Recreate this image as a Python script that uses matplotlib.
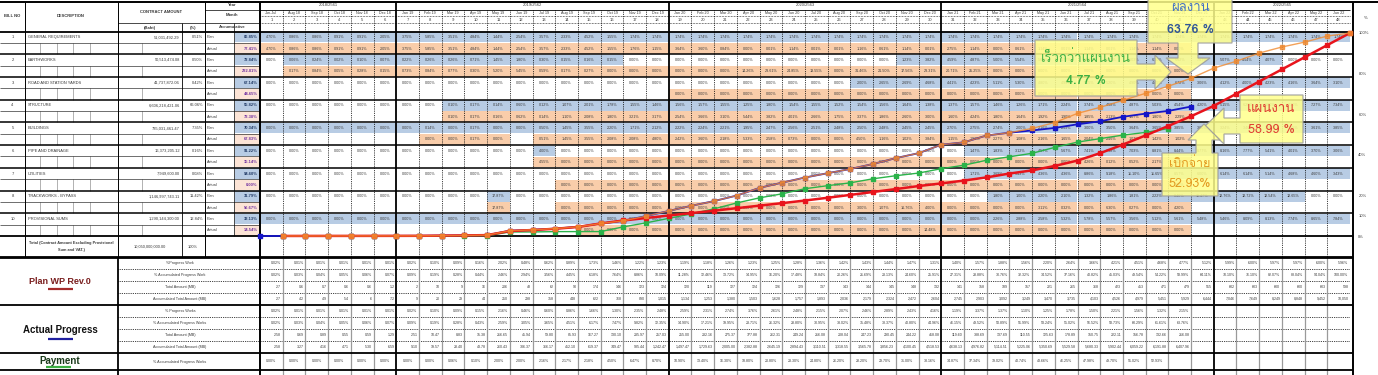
import matplotlib
matplotlib.use("Agg")
import numpy as np
import matplotlib.pyplot as plt
from matplotlib import font_manager, ft2font
from matplotlib.collections import PatchCollection
from matplotlib.patches import Rectangle, Polygon

# ---------------------------------------------------------------- data
bill_no = ["1", "2", "3", "4", "5", "6", "7", "8", "10"]
descriptions = ["GENERAL REQUIREMENTS", "EARTHWORKS", "ROAD AND STATION YARDS",
                "STRUCTURE", "BUILDINGS", "PIPE AND DRAINAGE", "UTILITIES",
                "TRACKWORKS - BYPASS", "PROVISIONAL SUMS"]
contract_baht = ["51,031,492.29", "50,513,474.08", "41,737,872.06",
                 "6,606,218,421.06", "735,031,461.47", "16,373,205.12",
                 "7,949,600.00", "1,146,997,743.11", "1,290,144,300.00"]
contract_pct = ["0.51%", "0.50%", "0.42%", "66.06%", "7.35%", "0.16%",
                "0.08%", "11.42%", "12.84%"]
plan_accum_item = [86.85, 72.84, 67.14, 55.82, 70.34, 91.22, 94.60, 31.79, 33.13]
actual_accum_item = [77.41, 232.81, 44.65, 73.38, 67.83, 15.14, 0.00, 56.67, 14.54]

years = ["2018/2561", "2019/2562", "2020/2563", "2021/2564", "2022/2565"]
year_first_month = [1, 7, 19, 31, 43]
year_last_month = [6, 18, 30, 42, 48]

N = None
gr_plan = [4.70, 0.86, 0.86, 0.91, 0.91, 2.05, 3.75, 5.85, 3.51, 4.84, 1.44, 2.54,
           3.57, 2.33, 4.52, 1.55, 1.74, 1.74, 1.74, 1.74, 1.74, 1.74, 1.74, 1.74,
           1.74, 1.74, 1.74, 1.74, 1.74, 1.74, 1.74, 1.74, 1.74, 1.74, 1.74, 1.74,
           1.74, 1.74, 1.74, 1.74, 1.74, 1.74, 1.74, 1.74, 1.74, 1.74, 1.74, 1.74]
gr_act = [4.70, 0.86, 0.86, 0.91, 0.91, 2.05, 3.75, 5.85, 3.51, 4.84, 1.44, 2.54,
          3.57, 2.33, 4.52, 1.55, 1.76, 1.15, 3.64, 3.60, 0.84, 0.00, 0.01, 1.14,
          0.01, 0.01, 1.16, 0.61, 1.14, 0.01, 2.75, 1.14, 0.00, 0.61, 1.14, 0.01,
          1.14, 0.01, 1.14, 1.14, 0.00, N, N, N, N, N, N, N]
ew_plan = [0.00, 0.06, 0.24, 0.02, 0.10, 0.07, 0.22, 0.26, 0.26, 0.71, 1.45, 1.80,
           0.30, 0.15, 0.16, 0.15, 0.00, 0.00, 0.00, 0.00, 0.00, 0.00, 0.00, 0.00,
           0.00, 0.00, 0.00, 0.00, 1.23, 3.82, 4.59, 4.87, 5.00, 5.54, 5.60, 5.72,
           5.85, 5.91, 6.03, 6.10, 6.62, 7.67, 5.07, 4.54, 4.07, 0.00, 0.00, 0.00]
ew_act = [N, 0.17, 0.84, 0.05, 0.28, 0.15, 0.73, 0.84, 0.77, 0.30, 5.20, 5.45,
          0.59, 0.17, 0.27, 0.00, 0.00, 0.00, 0.00, 0.00, 0.00, 14.26, 23.61, 24.85,
          13.55, 0.00, 31.46, 21.50, 17.56, 23.31, 20.71, 25.25, 0.00, 0.00, 0.00, 0.00,
          0.00, 0.00, 0.00, 0.00, 0.00, N, N, N, N, N, N, N]
road_plan = [0.00, 0.00, 0.00, 0.00, 0.00, 0.00, 0.00, 0.00, 0.00, 0.00, 0.00, 0.00,
             0.00, 0.00, 0.00, 0.00, 0.00, 0.00, 0.00, 0.00, 0.00, 0.00, 0.00, 0.00,
             0.00, 0.00, 2.00, 2.65, 2.69, 4.68, 4.41, 4.23, 5.11, 5.30, 4.80, 4.95,
             5.05, 5.20, 4.90, 4.45, 6.72, 3.06, 4.12, 4.00, 4.23, 4.16, 3.64, 3.10]
road_act = [N, N, N, N, N, N, N, N, N, N, N, N,
            N, N, N, N, N, N, 0.00, 0.00, 0.00, 0.00, 0.00, 0.00,
            0.00, 0.00, 0.00, 0.00, 0.00, 0.00, 0.00, 0.00, 0.00, 0.00, 0.00, 0.00,
            0.00, 0.00, 0.00, 0.00, 0.00, N, N, N, N, N, N, N]
struct_plan = [0.00, 0.00, 0.00, 0.00, 0.00, 0.00, 0.00, 0.00, 0.10, 0.17, 0.14, 0.60,
               0.12, 1.07, 2.01, 1.78, 1.55, 1.46, 1.56, 1.57, 1.55, 1.25, 1.80, 1.54,
               1.55, 1.52, 1.54, 1.56, 1.64, 1.38, 1.37, 1.57, 1.46, 1.26, 1.71, 2.24,
               3.74, 4.58, 4.87, 5.03, 4.54, 4.20, 5.15, 6.20, 6.80, 7.10, 7.27, 7.34]
struct_act = [N, N, N, N, N, N, N, N, 0.10, 0.17, 0.16, 0.62,
              0.14, 1.10, 2.08, 1.80, 3.21, 3.17, 2.54, 3.66, 3.10, 5.44, 3.82, 4.01,
              2.66, 1.75, 3.37, 1.86, 2.60, 3.00, 1.60, 4.24, 1.80, 1.64, 1.92, 1.90,
              1.85, 2.13, 1.07, 1.80, 2.29, N, N, N, N, N, N, N]
bld_plan = [0.00, 0.00, 0.00, 0.00, 0.00, 0.00, 0.00, 0.14, 0.00, 0.17, 0.00, 0.00,
            0.50, 1.45, 3.55, 2.20, 1.71, 2.12, 2.22, 2.24, 2.21, 1.95, 2.47, 2.56,
            2.51, 2.48, 2.50, 2.48, 2.45, 2.45, 2.70, 2.75, 2.74, 2.00, 2.16, 2.59,
            3.00, 3.50, 3.64, 3.65, 3.85, 3.60, 3.24, 3.40, 3.50, 3.55, 3.61, 3.85]
bld_act = [N, N, N, N, N, N, N, 0.00, 0.00, 0.17, 0.00, N,
           0.51, 1.45, 3.55, 2.08, 2.08, 4.80, 2.42, 3.60, 2.18, 5.33, 2.58, 0.73,
           0.00, 0.00, 4.50, 1.16, 1.02, 3.84, 1.15, 1.93, 2.27, 1.08, 2.16, 1.65,
           2.04, 2.46, 1.07, 1.42, 1.02, N, N, N, N, N, N, N]
pipe_plan = [0.00, 0.00, 0.00, 0.00, 0.00, 0.00, 0.00, 0.00, 0.00, 0.00, 0.00, 0.00,
             4.00, 0.00, 0.00, 0.00, 0.00, 0.00, 0.00, 0.00, 0.00, 0.00, 0.00, 0.00,
             0.00, 0.00, 0.00, 0.00, 0.00, 0.00, 0.00, 1.47, 1.83, 3.12, 4.57, 5.67,
             7.41, 7.58, 7.03, 8.81, 8.44, 8.77, 8.16, 7.77, 5.41, 4.01, 3.70, 3.06]
pipe_act = [N, N, N, N, N, N, N, N, N, N, N, N,
            4.55, 0.00, 0.00, 0.00, 0.00, 0.00, 0.00, 0.00, 0.00, 0.00, 0.00, 0.00,
            0.00, 0.00, 0.00, 0.00, 0.00, 0.00, 0.00, 0.00, 0.00, 0.00, 0.00, 0.00,
            4.26, 0.12, 0.52, 2.17, 3.52, N, N, N, N, N, N, N]
util_plan = [0.00, 0.00, 0.00, 0.00, 0.00, 0.00, 0.00, 0.00, 0.00, 0.00, 0.00, 0.00,
             0.00, 0.00, 0.00, 0.00, 0.00, 0.00, 0.00, 0.00, 0.00, 0.00, 0.00, 0.00,
             0.00, 0.00, 0.00, 0.00, 0.00, 0.00, 0.00, 1.71, 3.69, 3.43, 4.36, 4.36,
             8.86, 9.18, 11.10, 11.65, 8.57, 6.00, 6.14, 6.14, 5.14, 4.68, 4.60, 3.43]
util_act = [N, N, N, N, N, N, N, N, N, N, N, N,
            N, 0.00, 0.00, 0.00, 0.00, 0.00, 0.00, 0.00, 0.00, 0.00, 0.00, 0.00,
            0.00, 0.00, 0.00, 0.00, 0.00, 0.00, 0.00, 0.00, 0.00, 0.00, 0.00, 0.00,
            0.00, 0.00, 0.00, 0.00, 0.00, N, N, N, N, N, N, N]
track_plan = [0.00, 0.00, 0.00, 0.00, 0.00, 0.00, 0.00, 0.00, 0.00, 0.00, 17.87, 0.00,
              0.00, 0.00, 0.00, 0.00, 0.00, 0.00, 0.00, 0.00, 0.00, 0.00, 0.00, 0.00,
              0.00, 0.00, 0.00, 0.00, 0.00, 0.00, 0.00, 0.00, 1.80, 1.00, 2.20, 2.10,
              1.32, 1.86, 1.81, 2.22, 0.40, 11.47, 12.76, 12.72, 12.54, 12.65, 0.00, 0.00]
track_act = [N, N, N, N, N, N, N, N, N, N, 17.87, N,
             N, 0.00, 0.00, 0.00, 0.00, 0.00, 0.00, 0.00, 0.00, 0.00, 0.00, 0.00,
             0.00, 0.00, 3.00, 1.07, 16.76, 4.00, 0.00, 0.00, 0.00, 0.00, 3.11, 0.32,
             0.00, 6.30, 0.27, 0.00, 4.20, N, N, N, N, N, N, N]
prov_plan = [0.00, 0.00, 0.00, 0.00, 0.00, 0.00, 0.00, 0.00, 0.00, 0.00, 0.00, 0.00,
             0.00, 0.00, 0.00, 0.00, 0.00, 0.00, 0.00, 0.00, 0.00, 0.00, 0.00, 0.00,
             0.00, 0.00, 0.00, 0.00, 0.00, 0.00, 0.00, 0.00, 2.26, 2.88, 2.58, 5.32,
             5.78, 5.57, 3.56, 5.12, 5.61, 5.48, 5.46, 8.09, 8.13, 7.74, 8.65, 7.84]
prov_act = [N, N, N, N, N, N, N, N, N, N, N, N,
            N, N, 0.00, 0.00, 0.00, 0.00, 0.00, 0.00, 0.00, 0.00, 0.00, 0.00,
            0.00, 0.00, 0.00, 0.00, 0.00, 14.48, 0.00, 0.00, 0.00, 0.00, 0.00, 0.00,
            0.00, 0.00, 0.00, 0.00, 0.00, N, N, N, N, N, N, N]

plan_rows = [gr_plan, ew_plan, road_plan, struct_plan, bld_plan,
             pipe_plan, util_plan, track_plan, prov_plan]
actual_rows = [gr_act, ew_act, road_act, struct_act, bld_act,
               pipe_act, util_act, track_act, prov_act]

# S-curve / summary table (percent of contract, MB)
plan_month = [0.02, 0.01, 0.01, 0.01, 0.01, 0.01, 0.02, 0.10, 0.09, 0.16, 2.02, 0.48,
              0.62, 0.89, 1.73, 1.46, 1.22, 1.23, 1.19, 1.18, 1.26, 1.23, 1.25, 1.28,
              1.36, 1.42, 1.43, 1.44, 1.47, 1.31, 1.40, 1.57, 1.88, 1.56, 2.20, 2.64,
              3.66, 4.21, 4.51, 4.68, 4.77, 5.12, 5.99, 6.00, 5.97, 5.97, 6.00, 5.96]
plan_accum = [0.02, 0.03, 0.04, 0.05, 0.06, 0.07, 0.09, 0.19, 0.28, 0.44, 2.46, 2.94,
              3.56, 4.45, 6.18, 7.64, 8.86, 10.09, 11.28, 12.46, 13.72, 14.95, 16.20, 17.48,
              18.84, 20.26, 21.69, 23.13, 24.60, 25.91, 27.31, 28.88, 30.76, 32.32, 34.52, 37.16,
              40.82, 45.03, 49.54, 54.22, 58.99, 64.11, 70.10, 76.10, 82.07, 88.04, 94.04, 100.00]
plan_mb = [2.7, 0.6, 0.7, 0.6, 0.6, 1.2, 2, 10, 9, 16, 206, 48,
           62, 90, 174, 146, 123, 124, 120, 119, 127, 124, 126, 129,
           137, 143, 144, 145, 148, 132, 141, 158, 189, 157, 221, 265,
           368, 423, 453, 471, 479, 515, 602, 603, 600, 600, 603, 598]
plan_mb_accum = [2.7, 4.2, 4.9, 5.4, 6.0, 7.2, 9, 20, 29, 44, 250, 298,
                 358, 448, 622, 768, 890, 1015, 1134, 1253, 1380, 1503, 1628, 1757,
                 1893, 2036, 2179, 2324, 2472, 2604, 2745, 2903, 3092, 3249, 3470, 3735,
                 4103, 4526, 4979, 5451, 5929, 6444, 7046, 7649, 8249, 8848, 9452, 10050]

act_month = [0.02, 0.01, 0.01, 0.01, 0.01, 0.01, 0.02, 0.10, 0.09, 0.15, 2.16, 0.46,
             0.60, 0.86, 1.66, 1.30, 2.35, 2.48, 2.59, 2.31, 2.74, 3.76, 2.61, 2.48,
             2.15, 2.07, 2.46, 2.89, 2.43, 4.16, 1.19, 3.37, 1.37, 1.10, 1.25, 1.78,
             1.50, 2.21, 1.56, 1.32, 2.15]
act_accum = [0.02, 0.03, 0.04, 0.05, 0.06, 0.07, 0.09, 0.19, 0.28, 0.43, 2.59, 3.05,
             3.65, 4.51, 6.17, 7.47, 9.82, 12.35, 14.90, 17.21, 19.95, 23.71, 26.32, 28.80,
             30.95, 33.02, 35.48, 38.37, 40.80, 44.96, 46.15, 49.52, 50.89, 51.99, 53.24, 55.02,
             56.52, 58.73, 60.29, 61.61, 63.76]
act_mb = [2.58, 0.69, 0.89, 0.55, 0.59, 1.29, 2.51, 10.47, 8.83, 15.38, 216.65, 45.94,
          59.80, 85.93, 167.27, 130.10, 235.97, 257.03, 255.00, 232.16, 275.37, 377.88, 262.31, 249.24,
          216.08, 208.04, 247.23, 290.45, 244.22, 418.08, 119.60, 338.69, 137.69, 110.55, 125.63, 178.89,
          150.75, 222.11, 156.78, 132.66, 216.08]
act_mb_accum = [2.58, 3.27, 4.16, 4.71, 5.30, 6.59, 9.10, 19.57, 28.40, 43.78, 260.43, 306.37,
                366.17, 452.10, 619.37, 749.47, 985.44, 1242.47, 1497.47, 1729.63, 2005.00, 2382.88, 2645.19, 2894.43,
                3110.51, 3318.55, 3565.78, 3856.23, 4100.45, 4518.53, 4638.13, 4976.82, 5114.51, 5225.06, 5350.69, 5529.58,
                5680.33, 5902.44, 6059.22, 6191.88, 6407.96]
pay_accum = [0.00, 0.00, 0.00, 0.00, 0.00, 0.00, 0.00, 0.00, 0.06, 0.10, 2.00, 2.00,
             2.16, 2.17, 2.18, 4.50, 6.47, 8.70, 10.90, 13.40, 16.30, 18.80, 20.80, 23.30,
             24.80, 26.20, 28.20, 29.70, 31.00, 33.16, 34.87, 37.34, 39.02, 40.74, 43.66, 46.25,
             47.98, 49.70, 51.02, 52.93]
# orange line: follows actual to month 33, projected afterwards
forecast_tail = [53.0, 55.9, 60.4, 63.4, 66.8, 70.3, 73.8, 77.7, 82.7, 86.1,
                 90.1, 93.1, 95.5, 98.5, 100.0]
forecast = act_accum[:33] + forecast_tail

pct_ticks = [0, 10, 20, 40, 60, 80, 100]


def pick_thai_font():
    for entry in font_manager.fontManager.ttflist:
        try:
            if 0x0E1C in ft2font.FT2Font(entry.fname).get_charmap():
                return entry.name
        except Exception:
            continue
    return "DejaVu Sans"


def month_labels():
    names = ["Jan", "Feb", "Mar", "Apr", "May", "Jun",
             "Jul", "Aug", "Sep", "Oct", "Nov", "Dec"]
    labels = ["Jun-Jul"]
    for m in range(2, 49):
        n = 7 + m - 2
        labels.append(f"{names[n % 12]} {18 + n // 12}")
    return labels


def fmt_mb(v):
    if v < 10 and v != int(v):
        return f"{v:.1f}"
    return f"{v:,.0f}"


plt.rcParams["font.family"] = ["Liberation Sans", "DejaVu Sans"]
thai = pick_thai_font()

W, H = 1378, 375
X0, X1 = 260.0, 1350.0
CW = (X1 - X0) / 48
R0, RB = 31.5, 236.0
RH = (RB - R0) / 18
BLUE, PEACH, PINK = "#b8cce4", "#f9cdaa", "#fce4d6"
TXT = "#3a3a3a"
FS = 2.9
DOT = (0, (1, 1.2))


def col_left(m):
    return X0 + (m - 1) * CW


fig = plt.figure(figsize=(W / 100, H / 100), dpi=100)
ax = fig.add_axes([0, 0, 1, 1])
ax.set_xlim(0, W)
ax.set_ylim(H, 0)
ax.axis("off")


def hline(y, x0, x1, lw=0.5, color="black", ls="-"):
    ax.plot([x0, x1], [y, y], color=color, lw=lw, ls=ls, solid_capstyle="butt")


def vline(x, y0, y1, lw=0.5, color="black", ls="-"):
    ax.plot([x, x], [y0, y1], color=color, lw=lw, ls=ls, solid_capstyle="butt")


def txt(x, y, s, ha="center", size=FS, **kw):
    kw.setdefault("color", TXT)
    ax.text(x, y, s, ha=ha, va="center", fontsize=size, **kw)


rects, fills = [], []

# ---------------------------------------------------------------- header
txt(12.5, 16, "BILL NO", weight="bold", size=3)
txt(71, 16, "DESCRIPTION", weight="bold", size=3)
txt(161, 12, "CONTRACT AMOUNT", weight="bold", size=3)
txt(150, 27.5, "(Baht)", weight="bold", size=3)
txt(193, 27.5, "(%)", weight="bold", size=3)
txt(232, 5, "Year", weight="bold", size=3)
txt(232, 15, "Month", weight="bold", size=3)
txt(232, 27.5, "Accumulative", weight="bold", size=3)
txt(1366, 18, "%", size=3.2)

for label, a, b in zip(years, year_first_month, year_last_month):
    txt((col_left(a) + col_left(b) + CW) / 2, 5, label, size=3)
for m, label in enumerate(month_labels(), start=1):
    cx = col_left(m) + CW / 2
    txt(cx, 12.8, label, size=2.7)
    txt(cx, 19.6, str(m), size=3)

# ---------------------------------------------------------------- item rows
shaded_zero = {0, 4, 8}
for i in range(9):
    for half, series in ((0, plan_rows[i]), (1, actual_rows[i])):
        y0 = R0 + (2 * i + half) * RH
        yc = y0 + RH / 2
        for m, v in enumerate(series, start=1):
            if v is None:
                continue
            x0 = col_left(m)
            if half == 0:
                fill = BLUE if (v > 0 or i in shaded_zero) else None
            else:
                fill = PEACH
            if fill:
                rects.append(Rectangle((x0, y0 + 0.4), CW, RH - 0.8))
                fills.append(fill)
            txt(x0 + CW / 2, yc, f"{v:.2f}%", size=2.7)
        # accumulative column
        rects.append(Rectangle((234.5, y0 + 0.4), 24.5, RH - 0.8))
        fills.append(BLUE if half == 0 else PINK)
        if half == 0:
            txt(206.5, yc, "Plan", ha="left", size=2.8)
            txt(257.5, yc, f"{plan_accum_item[i]:.2f}%", ha="right", size=2.9,
                weight="bold", color="#1f3864")
            txt(12.5, yc, bill_no[i], size=3)
            txt(28, yc, descriptions[i], ha="left", size=2.9)
            txt(180, yc, contract_baht[i], ha="right", size=2.9)
            txt(203, yc, contract_pct[i], ha="right", size=2.9)
        else:
            txt(206.5, yc, "Actual", ha="left", size=2.8)
            txt(257.5, yc, f"{actual_accum_item[i]:.2f}%", ha="right", size=2.9,
                weight="bold", color="#7030a0")

ax.add_collection(PatchCollection(rects, facecolors=fills, edgecolors="none", zorder=0))

# total row
txt(71, 243, "Total (Contract Amount Excluding Provisional", size=2.8, weight="bold")
txt(71, 250, "Sum and VAT.)", size=2.8, weight="bold")
txt(150, 246.5, "10,050,000,000.00", size=2.9)
txt(193, 246.5, "100%", size=2.9)

# ---------------------------------------------------------------- summary rows
groups = [
    (257.0, ["%Progress Work", "% Accumulated Progress Work",
             "Total Amount (MB)", "Accumulated Total Amount (MB)"],
     [[f"{v:.2f}%" for v in plan_month], [f"{v:.2f}%" for v in plan_accum],
      [fmt_mb(v) for v in plan_mb], [fmt_mb(v) for v in plan_mb_accum]]),
    (305.0, ["% Progress Works", "% Accumulated Progress Works",
             "Total Amount (MB)", "Accumulated Total Amount (MB)"],
     [[f"{v:.2f}%" for v in act_month], [f"{v:.2f}%" for v in act_accum],
      [f"{v:,.2f}" for v in act_mb], [f"{v:,.2f}" for v in act_mb_accum]]),
]
SH = 12.0
for top, labels, rows in groups:
    for j, (label, vals) in enumerate(zip(labels, rows)):
        yc = top + SH * j + SH / 2
        txt(180, yc, label, size=2.7)
        for m, s in enumerate(vals, start=1):
            txt(col_left(m) + CW - 1.5, yc, s, ha="right", size=2.6)
        if j < 3:
            hline(top + SH * (j + 1), 118, X1, lw=0.6, ls=DOT)
txt(180, 361.5, "% Accumulated Progress Works", size=2.7)
for m, v in enumerate(pay_accum, start=1):
    txt(col_left(m) + CW / 2, 361.5, f"{v:.2f}%", size=2.6)

ax.text(60, 281, "Plan WP Rev.0", ha="center", va="center", fontsize=6.5,
        weight="bold", color="#7a1f1f")
hline(289, 48, 73, lw=1.6, color="#a52a2a")
ax.text(60, 330, "Actual Progress", ha="center", va="center", fontsize=7,
        weight="bold", color="#111111")
hline(339, 48, 73, lw=1.6, color="#1f1fa0")
ax.text(60, 361, "Payment", ha="center", va="center", fontsize=7,
        weight="bold", color="#1a3a1a")
hline(367, 46, 71, lw=1.6, color="#3cb043")

# ---------------------------------------------------------------- grid
year_bounds = [col_left(a) for a in year_first_month[1:]]
for m in range(2, 49):
    x = col_left(m)
    if x in year_bounds:
        continue
    vline(x, 9.5, RB + 22, lw=0.6, ls=DOT)
    vline(x, 257, H, lw=0.9, color="#9a9a9a")
for x in year_bounds:
    vline(x, 2, H, lw=1.3)
vline(X0 - 0.5, 2, H, lw=1.4)
vline(1353, 2, H, lw=1.4)
for x in (25, 118):
    vline(x, 2, 257, lw=0.7)
vline(118, 257, H, lw=1.3)
vline(182, 23, 257, lw=0.6)
vline(205, 2, 257, lw=0.7)
vline(234, 23, RB, lw=0.5)
for x in (40, 57, 73, 90, 142):
    for i in range(9):
        y0 = R0 + (2 * i + 1) * RH
        vline(x, y0, y0 + RH, lw=0.4, color="#777777")

hline(2, 0, W, lw=1.4)
hline(9.5, X0, X1, lw=0.6)
hline(16, X0, X1, lw=0.5, ls=DOT)
hline(23, X0, X1, lw=0.5, ls=DOT)
hline(23, 118, 259, lw=0.5)
hline(9.5, 205, 259, lw=0.5)
hline(R0, 0, 1353, lw=1.3)
for i in range(1, 9):
    hline(R0 + 2 * i * RH, 0, 1353, lw=1.1)
for i in range(9):
    hline(R0 + (2 * i + 1) * RH, 0, 259, lw=0.4)
for y in (RB, 257, 305, 353, 370):
    hline(y, 0, 1353, lw=1.3)
hline(RB + 22, 0, 1353, lw=1.3)

# ---------------------------------------------------------------- S-curves
cax = fig.add_axes([X0 / W, 1 - RB / H, (X1 - X0) / W, (RB - 33) / H])
cax.set_xlim(0, 48)
cax.set_ylim(0, 100)
cax.set_frame_on(False)
cax.set_xticks([])
cax.yaxis.tick_right()
cax.set_yticks(pct_ticks)
cax.set_yticklabels([f"{t}%" for t in pct_ticks])
cax.tick_params(axis="y", length=0, pad=6, labelsize=3, labelcolor=TXT)

k = np.arange(1, 49)
cax.plot(np.arange(0, len(act_accum) + 1), [0.0] + act_accum, color="#1515c8",
         lw=1.3, marker="s", ms=3.2, zorder=3, clip_on=False)
cax.plot(k[:len(pay_accum)], pay_accum, color="#2bb34a", lw=1.0,
         marker="s", ms=2.8, zorder=4, clip_on=False)
cax.plot(k, plan_accum, color="#e8141c", lw=1.8, marker="s", ms=3.3,
         zorder=5, clip_on=False)
cax.plot(k, forecast, color="#f08a30", lw=1.0, marker="s", ms=2.8,
         alpha=0.8, zorder=6, clip_on=False)

# ---------------------------------------------------------------- callouts
ov = fig.add_axes([0, 0, 1, 1])
ov.set_xlim(0, W)
ov.set_ylim(H, 0)
ov.axis("off")


def callout(points):
    ov.add_patch(Polygon(points, closed=True, facecolor="#ffff8c",
                         edgecolor="#9a9a9a", lw=0.9, alpha=0.85))


def ctext(x, y, s, color, size=9, weight="normal"):
    ov.text(x, y, s, ha="center", va="center", fontsize=size, color=color,
            weight=weight, family=[thai, "DejaVu Sans"])


callout([(1148, -3), (1232, -3), (1232, 43), (1198, 43), (1198, 58), (1210, 58),
         (1188, 74), (1166, 58), (1178, 58), (1178, 43), (1148, 43)])
ctext(1191, 8, "ผลงาน", "#4472c4", size=9.5)
ctext(1190, 30, "63.76 %", "#2f5597", size=9, weight="bold")

callout([(1035, 40), (1137, 40), (1137, 64), (1155, 64), (1155, 55), (1171, 72),
         (1155, 89), (1155, 80), (1137, 80), (1137, 96), (1035, 96)])
ctext(1086, 58, "เร็วกว่าแผนงาน", "#3cb043", size=9.5)
ctext(1086, 81, "4.77 %", "#3cb043", size=9, weight="bold")

callout([(1240, 95), (1303, 95), (1303, 143), (1240, 143), (1240, 134),
         (1224, 134), (1224, 144), (1205, 126), (1224, 108), (1224, 118),
         (1240, 118)])
ctext(1271, 109, "แผนงาน", "#e03c31", size=9.5)
ctext(1271, 130, "58.99 %", "#e03c31", size=9)

callout([(1162, 153), (1196, 153), (1196, 140), (1188, 140), (1204, 124),
         (1220, 140), (1212, 140), (1212, 153), (1218, 153), (1218, 196),
         (1162, 196)])
ctext(1190, 164, "เบิกจ่าย", "#e39b22", size=9)
ctext(1190, 184, "52.93%", "#e39b22", size=9)

fig.savefig("out.png", dpi=100, facecolor="white")
